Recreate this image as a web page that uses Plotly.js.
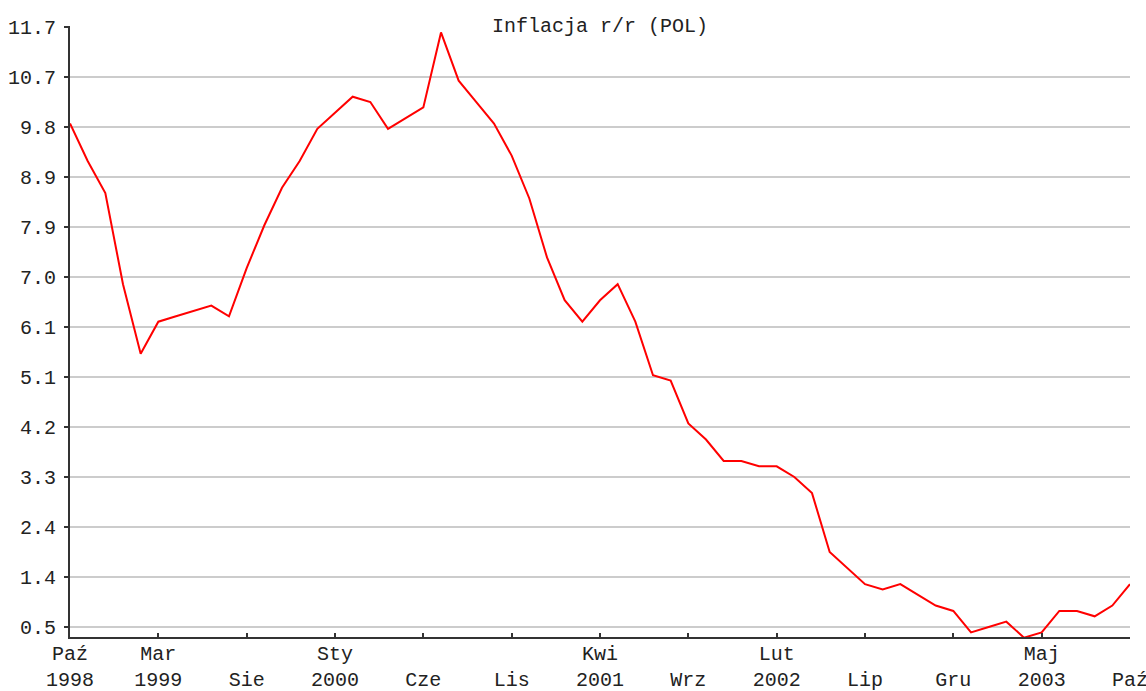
<!DOCTYPE html>
<html>
<head>
<meta charset="utf-8">
<script src="https://cdn.plot.ly/plotly-3.0.1.min.js"></script>
<style>html,body{margin:0;padding:0;background:#fff;}#chart{width:1146px;height:691px;}</style>
</head>
<body>
<div id="chart"></div>
<script>
// Months (categories), Oct 1998 .. Oct 2003
const months = [
  "1998-10","1998-11","1998-12",
  "1999-01","1999-02","1999-03","1999-04","1999-05","1999-06","1999-07","1999-08","1999-09","1999-10","1999-11","1999-12",
  "2000-01","2000-02","2000-03","2000-04","2000-05","2000-06","2000-07","2000-08","2000-09","2000-10","2000-11","2000-12",
  "2001-01","2001-02","2001-03","2001-04","2001-05","2001-06","2001-07","2001-08","2001-09","2001-10","2001-11","2001-12",
  "2002-01","2002-02","2002-03","2002-04","2002-05","2002-06","2002-07","2002-08","2002-09","2002-10","2002-11","2002-12",
  "2003-01","2003-02","2003-03","2003-04","2003-05","2003-06","2003-07","2003-08","2003-09","2003-10"
];
// Inflation y/y (%)
const inflation = [
  9.9, 9.2, 8.6,
  6.9, 5.6, 6.2, 6.3, 6.4, 6.5, 6.3, 7.2, 8.0, 8.7, 9.2, 9.8,
  10.1, 10.4, 10.3, 9.8, 10.0, 10.2, 11.6, 10.7, 10.3, 9.9, 9.3, 8.5,
  7.4, 6.6, 6.2, 6.6, 6.9, 6.2, 5.2, 5.1, 4.3, 4.0, 3.6, 3.6,
  3.5, 3.5, 3.3, 3.0, 1.9, 1.6, 1.3, 1.2, 1.3, 1.1, 0.9, 0.8,
  0.4, 0.5, 0.6, 0.3, 0.4, 0.8, 0.8, 0.7, 0.9, 1.3
];
// X tick positions and labels
const xTickVals = ["1998-10","1999-03","1999-08","2000-01","2000-06","2000-11","2001-04","2001-09","2002-02","2002-07","2002-12","2003-05","2003-10"];
const xTickText = ["Paź<br>1998","Mar<br>1999","&nbsp;<br>Sie","Sty<br>2000","&nbsp;<br>Cze","&nbsp;<br>Lis","Kwi<br>2001","&nbsp;<br>Wrz","Lut<br>2002","&nbsp;<br>Lip","&nbsp;<br>Gru","Maj<br>2003","&nbsp;<br>Paź"];
// Y tick positions and labels
const yTickVals = [0.5, 1.4333, 2.3667, 3.3, 4.2333, 5.1667, 6.1, 7.0333, 7.9667, 8.9, 9.8333, 10.7667, 11.7];
const yTickText = ["0.5","1.4","2.4","3.3","4.2","5.1","6.1","7.0","7.9","8.9","9.8","10.7","11.7"];
const yGridVals = yTickVals.slice(0, yTickVals.length - 1);

const FONT = "Liberation Mono, DejaVu Sans Mono, monospace";
const yRange = [0.3133, 11.72];

const data = [{
  x: months,
  y: inflation,
  type: "scatter",
  mode: "lines",
  line: {color: "#ff0000", width: 2},
  hoverinfo: "x+y",
  yaxis: "y"
}, {
  x: [months[0]],
  y: [inflation[0]],
  type: "scatter",
  mode: "none",
  showlegend: false,
  hoverinfo: "skip",
  yaxis: "y2"
}];

const layout = {
  width: 1146,
  height: 691,
  margin: {l: 70, r: 16, t: 26, b: 54, pad: 0},
  paper_bgcolor: "#ffffff",
  plot_bgcolor: "#ffffff",
  showlegend: false,
  font: {family: FONT, size: 20, color: "#222222"},
  title: {
    text: "Inflacja r/r (POL)",
    font: {family: FONT, size: 20, color: "#222222"},
    x: 0.5, xref: "paper", xanchor: "center",
    y: 1 - 25/691, yref: "container", yanchor: "middle"
  },
  xaxis: {
    type: "category",
    categoryorder: "array",
    categoryarray: months,
    range: [0, months.length - 1],
    tickmode: "array",
    tickvals: xTickVals,
    ticktext: xTickText,
    ticks: "inside",
    ticklen: 4,
    tickwidth: 2,
    tickcolor: "#333333",
    showgrid: false,
    zeroline: false,
    showline: true,
    linecolor: "#333333",
    linewidth: 2,
    ticklabelstandoff: -3,
    tickfont: {family: FONT, size: 20, color: "#222222"},
    fixedrange: true
  },
  yaxis: {
    range: yRange,
    tickmode: "array",
    tickvals: yTickVals,
    ticktext: yTickText,
    ticks: "outside",
    ticklen: 4,
    tickwidth: 2,
    tickcolor: "#333333",
    showgrid: false,
    zeroline: false,
    showline: true,
    linecolor: "#333333",
    linewidth: 2,
    ticklabelstandoff: 4,
    tickfont: {family: FONT, size: 20, color: "#222222"},
    fixedrange: true
  },
  yaxis2: {
    overlaying: "y",
    range: yRange,
    tickmode: "array",
    tickvals: yGridVals,
    showticklabels: false,
    ticks: "",
    showgrid: true,
    gridcolor: "#cccccc",
    gridwidth: 2,
    zeroline: false,
    showline: false,
    layer: "below traces",
    fixedrange: true
  }
};

Plotly.newPlot("chart", data, layout, {displayModeBar: false, staticPlot: true});
</script>
</body>
</html>
